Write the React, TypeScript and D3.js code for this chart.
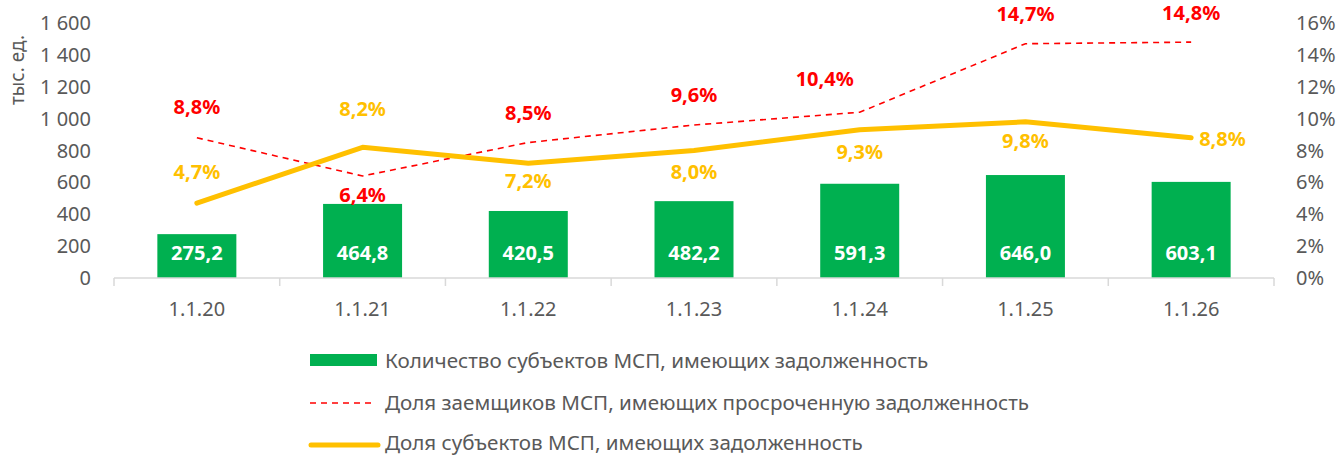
import React from "react";
import * as d3 from "d3";

const categories = ["1.1.20", "1.1.21", "1.1.22", "1.1.23", "1.1.24", "1.1.25", "1.1.26"];
const barValues = [275.2, 464.8, 420.5, 482.2, 591.3, 646.0, 603.1];
const overdueShare = [8.8, 6.4, 8.5, 9.6, 10.4, 14.7, 14.8];
const debtShare = [4.7, 8.2, 7.2, 8.0, 9.3, 9.8, 8.8];
const leftTicks = [0, 200, 400, 600, 800, 1000, 1200, 1400, 1600];
const rightTicks = [0, 2, 4, 6, 8, 10, 12, 14, 16];
const legendLabels = [
  "Количество субъектов МСП, имеющих задолженность",
  "Доля заемщиков МСП, имеющих просроченную задолженность",
  "Доля субъектов МСП, имеющих задолженность",
];

// label placement (dx, dy from point)
const redLabelOffsets: [number, number][] = [[0, -31], [0, 19], [0, -30], [0, -30], [-35, -33], [0, -30], [0, -29]];
const yellowLabelOffsets: [number, number][] = [[0, -31], [0, -38], [0, 18], [0, 21], [0, 22], [0, 19], [8, 1]];

const FONT = "'Noto Sans', Roboto, sans-serif";
const GREY = "#595959";
const GREEN = "#00B050";
const RED = "#FF0000";
const YELLOW = "#FFC000";
const FS = 20;
const LFS = 20.6;

const fmt = (v: number, d = 1) => v.toFixed(d).replace(".", ",");
const fmtThousands = (v: number) => (v >= 1000 ? d3.format(",")(v).replace(",", " ") : String(v));

export default function App() {
  const W = 1341, H = 457;
  const x0 = 114, x1 = 1274, yTop = 23, yBot = 278;
  const band = d3.scaleBand<string>().domain(categories).range([x0, x1]);
  const cx = (c: string) => (band(c) as number) + band.bandwidth() / 2;
  const yL = d3.scaleLinear().domain([0, 1600]).range([yBot, yTop]);
  const yR = d3.scaleLinear().domain([0, 16]).range([yBot, yTop]);

  const line = d3.line<number>().x((_, i) => cx(categories[i])).y((v) => yR(v));

  const barW = 79;

  return (
    <svg width={W} height={H} style={{ position: "absolute", left: 0, top: 0, fontFamily: FONT }}>
      <rect width={W} height={H} fill="#fff" />
      {leftTicks.map((t) => (
        <text key={"l" + t} x={91} y={yL(t)} dy="0.35em" textAnchor="end" fontSize={FS} fill={GREY}>
          {fmtThousands(t)}
        </text>
      ))}
      <text transform={`translate(17,70) rotate(-90)`} textAnchor="middle" dy="0.35em" fontSize={19} fill={GREY}>
        тыс. ед.
      </text>
      {rightTicks.map((t) => (
        <text key={"r" + t} x={1296} y={yR(t)} dy="0.35em" textAnchor="start" fontSize={FS} fill={GREY}>
          {t}%
        </text>
      ))}
      {categories.map((c, i) => (
        <rect key={"b" + c} x={cx(c) - barW / 2} y={yL(barValues[i])} width={barW} height={yBot - yL(barValues[i])} fill={GREEN} />
      ))}
      <line x1={x0} x2={x1} y1={yBot} y2={yBot} stroke="#D9D9D9" strokeWidth={1.5} />
      {[...categories.map((c) => band(c) as number), x1].map((tx, i) => (
        <line key={"t" + i} x1={tx} x2={tx} y1={yBot} y2={yBot + 8} stroke="#D9D9D9" strokeWidth={1.5} />
      ))}
      {categories.map((c) => (
        <text key={"x" + c} x={cx(c)} y={309} dy="0.35em" textAnchor="middle" fontSize={FS} fill={GREY}>
          {c}
        </text>
      ))}
      {categories.map((c, i) => (
        <text key={"bl" + c} x={cx(c)} y={253} dy="0.35em" textAnchor="middle" fontSize={FS} fontWeight="bold" fill="#fff">
          {fmt(barValues[i])}
        </text>
      ))}
      <path d={line(overdueShare) || ""} fill="none" stroke={RED} strokeWidth={1.6} strokeDasharray="6 5" />
      <path d={line(debtShare) || ""} fill="none" stroke={YELLOW} strokeWidth={5} strokeLinecap="round" strokeLinejoin="round" />
      {categories.map((c, i) => (
        <text key={"rl" + c} x={cx(c) + redLabelOffsets[i][0]} y={yR(overdueShare[i]) + redLabelOffsets[i][1]} dy="0.35em" textAnchor="middle" fontSize={FS} fontWeight="bold" fill={RED}>
          {fmt(overdueShare[i])}%
        </text>
      ))}
      {categories.map((c, i) => (
        <text key={"yl" + c} x={cx(c) + yellowLabelOffsets[i][0]} y={yR(debtShare[i]) + yellowLabelOffsets[i][1]} dy="0.35em" textAnchor={i === categories.length - 1 ? "start" : "middle"} fontSize={FS} fontWeight="bold" fill={YELLOW}>
          {fmt(debtShare[i])}%
        </text>
      ))}
      <rect x={310} y={354} width={67} height={12} fill={GREEN} />
      <text x={385} y={360.5} dy="0.35em" fontSize={LFS} fill={GREY}>{legendLabels[0]}</text>
      <line x1={310} x2={374} y1={403} y2={403} stroke={RED} strokeWidth={1.6} strokeDasharray="6 5" />
      <text x={385} y={403} dy="0.35em" fontSize={LFS} fill={GREY}>{legendLabels[1]}</text>
      <line x1={311} x2={378} y1={445} y2={445} stroke={YELLOW} strokeWidth={5} strokeLinecap="round" />
      <text x={385} y={443} dy="0.35em" fontSize={LFS} fill={GREY}>{legendLabels[2]}</text>
    </svg>
  );
}
